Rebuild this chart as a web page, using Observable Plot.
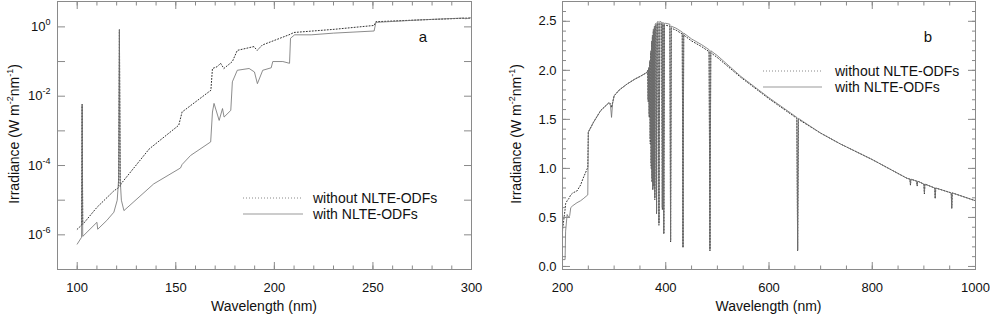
<!DOCTYPE html>
<html><head><meta charset="utf-8">
<script src="https://cdn.jsdelivr.net/npm/d3@7"></script>
<script src="https://cdn.jsdelivr.net/npm/@observablehq/plot@0.6"></script>
<style>
html,body{margin:0;padding:0;background:#fff;}
#wrap{display:flex;width:990px;height:317px;overflow:hidden;}
svg{font-family:"Liberation Sans",Arial,Helvetica,sans-serif;overflow:visible;}
</style></head><body><div id="wrap"></div>
<script>
// ---------- Panel a: UV (log irradiance) ----------
const uvWaveWithout = [100, 102.2, 102.5, 102.8, 110, 118.6, 121.0, 121.4, 121.8, 122.2, 136.5, 151.5, 153.2, 167.8, 168.6, 171, 172.7, 174.4, 178.7, 181.2, 189.6, 191.3, 193.9, 207.4, 210, 230.3, 250.6, 251.5, 275, 296.4, 300];
const uvWithout = [1.45e-6, 1.9e-6, 5.8e-3, 2.0e-6, 6.2e-6, 1.86e-5, 2.3e-5, 0.83, 2.5e-5, 2.95e-5, 3.0e-4, 1.45e-3, 3.5e-3, 1.48e-2, 6.3e-2, 7.1e-2, 8.9e-2, 6.3e-2, 0.10, 0.21, 0.27, 0.21, 0.30, 0.59, 0.69, 0.85, 1.10, 1.41, 1.60, 1.78, 1.80];
const uvWaveWith = [100, 102.2, 102.5, 102.8, 105, 110, 110.4, 115, 118.6, 120.3, 121.0, 121.4, 121.8, 122.4, 123.7, 138.8, 152.4, 153.2, 157.5, 167.7, 168.6, 169.4, 172.0, 173.7, 174.5, 177.9, 178.7, 181.2, 187.2, 189.9, 191.4, 194.1, 198.4, 199.2, 204.3, 207.7, 208.2, 210.3, 218.7, 230, 250.6, 251.5, 275, 296, 297, 300];
const uvWith = [5.4e-7, 8.5e-7, 5.8e-3, 9e-7, 1.2e-6, 2.3e-6, 1.45e-6, 2.6e-6, 4.5e-6, 1.0e-5, 4e-5, 0.83, 4e-5, 1.0e-5, 5e-6, 2.95e-5, 8.5e-5, 1.07e-4, 1.95e-4, 4.8e-4, 3.5e-3, 6.2e-3, 2.0e-3, 4.4e-3, 2.5e-3, 3.9e-3, 2.6e-2, 5.6e-2, 6.3e-2, 5.0e-2, 2.3e-2, 5.6e-2, 6.6e-2, 0.10, 0.10, 0.089, 0.47, 0.59, 0.59, 0.66, 0.76, 1.35, 1.60, 1.80, 1.72, 1.84];
const uvXMajor = [100, 150, 200, 250, 300];
const uvXMinor = d3.range(90, 301, 10);
const uvYTicks = [1e-7, 1e-6, 1e-5, 1e-4, 1e-3, 1e-2, 1e-1, 1];
const uvYLabels = [1e-6, 1e-4, 1e-2, 1];

// ---------- Panel b: visible / IR (linear irradiance) ----------
const visWave = [200, 203, 205, 206, 209, 212, 214, 216, 220, 228, 235, 240, 249, 250, 260, 274, 290, 293, 295, 297, 300, 310, 325, 340, 351, 364,
  365, 366, 367, 368, 369, 370, 371, 371.8, 372.6, 373.4, 374.2, 375, 376, 377.2, 378, 378.8, 379.6, 381, 382.2, 383.4, 385, 386.8, 388.6, 392, 393.4, 394.6, 396.2, 397.6, 400, 408, 409.4, 410.8, 420, 432, 433.4, 434.8, 450, 470, 484, 485.6, 487.2, 500, 545, 600, 654, 655.5, 657, 700, 738, 800, 867, 873, 874, 875, 886, 887, 888, 900, 901, 902, 921, 922, 923, 953, 954, 955, 1000];
const visWith = [0.07, 0.07, 0.07, 0.36, 0.53, 0.50, 0.52, 0.60, 0.62, 0.65, 0.67, 0.69, 0.73, 1.37, 1.47, 1.59, 1.67, 1.64, 1.52, 1.66, 1.74, 1.80, 1.86, 1.91, 1.94, 1.98,
  2.00, 1.70, 2.03, 1.55, 2.10, 1.30, 2.20, 1.05, 2.30, 0.90, 2.36, 0.80, 2.42, 0.85, 2.45, 0.70, 2.47, 2.48, 0.56, 2.49, 2.50, 0.44, 2.50, 2.49, 0.60, 2.49, 0.34, 2.48, 2.48, 2.47, 0.26, 2.45, 2.43, 2.39, 0.20, 2.38, 2.32, 2.26, 2.21, 0.17, 2.20, 2.15, 1.94, 1.72, 1.52, 0.17, 1.51, 1.36, 1.25, 1.09, 0.90, 0.89, 0.84, 0.89, 0.87, 0.83, 0.87, 0.84, 0.75, 0.84, 0.80, 0.70, 0.80, 0.75, 0.60, 0.75, 0.67];
const visWithout = [0.36, 0.50, 0.58, 0.64, 0.67, 0.69, 0.71, 0.73, 0.75, 0.77, 0.83, 0.90, 1.01, 1.37, 1.47, 1.59, 1.67, 1.66, 1.62, 1.67, 1.74, 1.80, 1.86, 1.91, 1.94, 1.98,
  2.00, 1.68, 2.02, 1.52, 2.08, 1.25, 2.18, 1.00, 2.28, 0.86, 2.34, 0.78, 2.40, 0.82, 2.43, 0.68, 2.45, 2.46, 0.54, 2.47, 2.48, 0.42, 2.48, 2.47, 0.58, 2.47, 0.33, 2.46, 2.46, 2.45, 0.25, 2.43, 2.41, 2.37, 0.19, 2.36, 2.30, 2.24, 2.19, 0.16, 2.18, 2.13, 1.93, 1.71, 1.51, 0.16, 1.50, 1.36, 1.25, 1.09, 0.90, 0.89, 0.83, 0.89, 0.87, 0.82, 0.87, 0.84, 0.74, 0.84, 0.80, 0.69, 0.80, 0.75, 0.59, 0.75, 0.67];
const visXMajor = [200, 400, 600, 800, 1000];
const visXMinor = d3.range(200, 1001, 50);
const visYMajor = [0, 0.5, 1.0, 1.5, 2.0, 2.5];
const visYMinor = d3.range(0, 27).map(i => i / 10);

const seriesNames = ["without NLTE-ODFs", "with NLTE-ODFs"];
const panelLabels = ["a", "b"];

const FRAME = "#8a8a8a";
const DOT = {stroke: "#333", strokeWidth: 1, strokeDasharray: "1,2"};
const SOLID = {stroke: "#6e6e6e", strokeWidth: 0.8};

function rows(ws, vs) { return ws.map((w, i) => ({w, v: vs[i]})); }

function makePanel(o) {
  const blank = () => "";
  const chart = Plot.plot({
    width: o.width, height: 317,
    marginTop: 1, marginBottom: 48, marginLeft: o.marginLeft, marginRight: o.marginRight,
    style: {fontFamily: "'Liberation Sans', Arial, sans-serif", color: "#111", background: "#fff", overflow: "visible"},
    x: {domain: o.xDomain, label: null},
    y: {type: o.yType, domain: o.yDomain, label: null},
    marks: [
      Plot.line(rows(o.waveWithout, o.without), {x: "w", y: "v", ...DOT, curve: "linear"}),
      Plot.line(rows(o.waveWith, o.with), {x: "w", y: "v", ...SOLID, curve: "linear"}),
      Plot.frame({stroke: FRAME, strokeWidth: 1}),
      Plot.axisX(o.xMinor, {anchor: "bottom", tickSize: -3.5, tickFormat: blank, stroke: FRAME, label: null}),
      Plot.axisX(o.xMinor, {anchor: "top", tickSize: -3.5, tickFormat: blank, stroke: FRAME, label: null}),
      Plot.axisX(o.xMajor, {anchor: "bottom", tickSize: -7, tickFormat: blank, stroke: FRAME, label: null}),
      Plot.axisX(o.xMajor, {anchor: "top", tickSize: -7, tickFormat: blank, stroke: FRAME, label: null}),
      Plot.axisX(o.xMajor, {anchor: "bottom", tickSize: 0, tickPadding: 13, fontSize: 13, fill: "#111", tickFormat: d => String(d), label: null}),
      Plot.axisY(o.yMinor, {anchor: "left", tickSize: -o.yMinorLen, tickFormat: blank, stroke: FRAME, label: null}),
      Plot.axisY(o.yMinor, {anchor: "right", tickSize: -o.yMinorLen, tickFormat: blank, stroke: FRAME, label: null}),
      Plot.axisY(o.yMajor, {anchor: "left", tickSize: -8, tickFormat: blank, stroke: FRAME, label: null}),
      Plot.axisY(o.yMajor, {anchor: "right", tickSize: -8, tickFormat: blank, stroke: FRAME, label: null}),
      Plot.axisY(o.yLabels, {anchor: "left", tickSize: 0, tickPadding: o.yPad, fontSize: 13, fill: "#111", tickFormat: o.yFormat, label: null})
    ]
  });
  const svg = d3.select(chart);
  // superscript exponents in log tick labels
  svg.selectAll("text").each(function() {
    const t = this.textContent;
    if (t.startsWith("10^")) {
      const el = d3.select(this);
      el.text(null);
      el.append("tspan").text("10");
      el.append("tspan").attr("dy", "-6").attr("font-size", "9").text(t.slice(3));
    }
  });
  // axis titles
  const ml = o.marginLeft, pw = o.width - o.marginLeft - o.marginRight;
  svg.append("text").attr("x", ml + pw / 2).attr("y", 311).attr("text-anchor", "middle")
    .attr("font-size", 14).attr("fill", "#111").text("Wavelength (nm)");
  const yt = svg.append("text").attr("transform", `translate(${o.yTitleX},134) rotate(-90)`)
    .attr("text-anchor", "middle").attr("font-size", 14).attr("fill", "#111");
  yt.append("tspan").text("Irradiance (W m");
  yt.append("tspan").attr("dy", -6).attr("font-size", 9).text("-2");
  yt.append("tspan").attr("dy", 6).text("nm");
  yt.append("tspan").attr("dy", -6).attr("font-size", 9).text("-1");
  yt.append("tspan").attr("dy", 6).text(")");
  // legend
  const lg = svg.append("g").attr("font-size", 14).attr("fill", "#111").attr("text-anchor", "start");
  const L = o.legend;
  lg.append("line").attr("x1", L.x1).attr("x2", L.x2).attr("y1", L.y).attr("y2", L.y)
    .attr("stroke", "#888").attr("stroke-width", 1).attr("stroke-dasharray", "1,2");
  lg.append("line").attr("x1", L.x1).attr("x2", L.x2).attr("y1", L.y + L.dy).attr("y2", L.y + L.dy)
    .attr("stroke", "#999").attr("stroke-width", 1);
  lg.append("text").attr("x", L.tx).attr("y", L.y + 5).attr("text-anchor", "start").text(seriesNames[0]);
  lg.append("text").attr("x", L.tx).attr("y", L.y + L.dy + 5).attr("text-anchor", "start").text(seriesNames[1]);
  svg.append("text").attr("x", o.labelX).attr("y", 42).attr("text-anchor", "middle")
    .attr("font-size", 15).attr("fill", "#111").text(o.label);
  return chart;
}

const wrap = document.getElementById("wrap");
wrap.appendChild(makePanel({
  width: 500, marginLeft: 57, marginRight: 29,
  xDomain: [90, 300], yType: "log", yDomain: [1e-7, 5.4],
  waveWithout: uvWaveWithout, without: uvWithout, waveWith: uvWaveWith, with: uvWith,
  xMajor: uvXMajor, xMinor: uvXMinor, yMajor: uvYTicks, yMinor: [], yMinorLen: 4, yLabels: uvYLabels, yPad: 7,
  yFormat: d => "10^" + Math.round(Math.log10(d)),
  yTitleX: 19, legend: {x1: 243, x2: 303, y: 198, dy: 16, tx: 313}, labelX: 423, label: panelLabels[0]
}));
wrap.appendChild(makePanel({
  width: 490, marginLeft: 62, marginRight: 15,
  xDomain: [200, 1000], yType: "linear", yDomain: [-0.031, 2.702],
  waveWithout: visWave, without: visWithout, waveWith: visWave, with: visWith,
  xMajor: visXMajor, xMinor: visXMinor, yMajor: visYMajor, yMinor: visYMinor, yMinorLen: 4, yLabels: visYMajor, yPad: 6,
  yFormat: d3.format(".1f"),
  yTitleX: 21, legend: {x1: 263, x2: 322, y: 71, dy: 16, tx: 335}, labelX: 428, label: panelLabels[1]
}));
</script></body></html>
